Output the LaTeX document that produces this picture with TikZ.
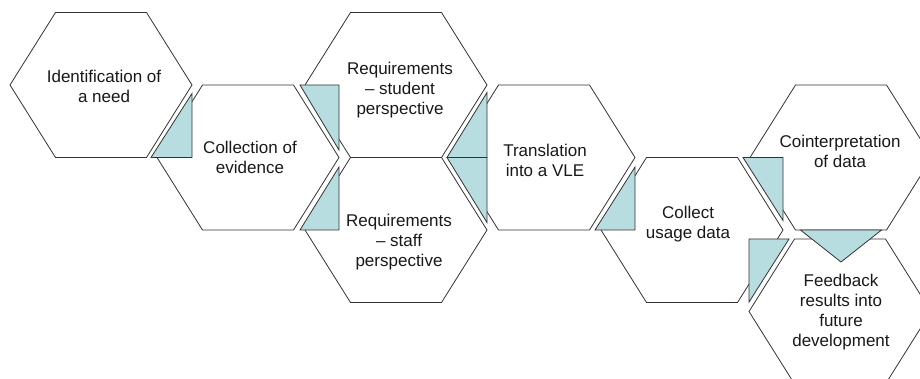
\documentclass[tikz,border=0pt]{standalone}
\usepackage{fontspec}
\setmainfont{Liberation Sans}
\usepackage{tikz}
\usetikzlibrary{calc}
\definecolor{tealfill}{RGB}{183,221,225}

% flat-topped hexagon round a named centre; its corners get names too
\newcommand{\hexcell}[3]{%
  \coordinate (#1) at (#2,#3);
  \coordinate (#1-w) at ($(#1)+(-91,0)$);
  \coordinate (#1-e) at ($(#1)+(91,0)$);
  \coordinate (#1-nw) at ($(#1)+(-45.5,-72.5)$);
  \coordinate (#1-ne) at ($(#1)+(45.5,-72.5)$);
  \coordinate (#1-sw) at ($(#1)+(-45.5,72.5)$);
  \coordinate (#1-se) at ($(#1)+(45.5,72.5)$);
  \draw[hex] (#1-w) -- (#1-nw) -- (#1-ne) -- (#1-e) -- (#1-se) -- (#1-sw) -- cycle;
}
% right-angled pointer: corner, then the two legs
\newcommand{\pointer}[3]{\draw[wedge] (#1) -- +(#2,0) -- +(0,#3) -- cycle;}

\begin{document}
\begin{tikzpicture}[x=1pt, y=-1pt,
    hex/.style={draw=black!80, fill=white, line width=0.8pt},
    wedge/.style={draw=black!80, fill=tealfill, line width=0.8pt},
    celltext/.style={font=\fontsize{17}{20}\selectfont, align=center, text=black!90}]
    \clip (0,0) rectangle (920,379);

    \hexcell{need}{101}{85}
    \hexcell{evidence}{248}{157.5}
    \hexcell{student}{396}{85}
    \hexcell{staff}{396}{230}
    \hexcell{vle}{544}{157.5}
    \hexcell{usage}{692}{230}
    \hexcell{cointerp}{841}{157.5}
    \hexcell{feedback}{840}{311.5}

    \node[celltext] (need-txt) at (104,86) {Identification of\\a need};
    \node[celltext] (evidence-txt) at (250,157) {Collection of\\evidence};
    \node[celltext] (student-txt) at (400,90) {Requirements\\– student\\perspective};
    \node[celltext] (staff-txt) at (399,242) {Requirements\\– staff\\perspective};
    \node[celltext] (vle-txt) at (545,160) {Translation\\into a VLE};
    \node[celltext] (usage-txt) at (688,224) {Collect\\usage data};
    \node[celltext] (cointerp-txt) at (840,151) {Cointerpretation\\of data};
    \node[celltext] (feedback-txt) at (841,312) {Feedback\\results into\\future\\development};

    % pointers from one cell to the next
    \pointer{need-e |- evidence}{-41}{-64}
    \pointer{evidence-e |- student}{-39}{65}
    \pointer{evidence-e |- staff}{-39}{-63}
    \pointer{student-e |- vle}{-40}{-65}
    \pointer{staff-e |- vle}{-40}{65}
    \pointer{vle-e |- usage}{-40}{-63}
    \pointer{usage-e |- cointerp}{-40}{63}
    \pointer{feedback-w |- feedback-nw}{40}{63}
    \draw[wedge] ($(cointerp-sw)+(5,0)$) -- ($(cointerp-se)+(-5,0)$) -- ($(cointerp)+(0,104.5)$) -- cycle;
\end{tikzpicture}
\end{document}
